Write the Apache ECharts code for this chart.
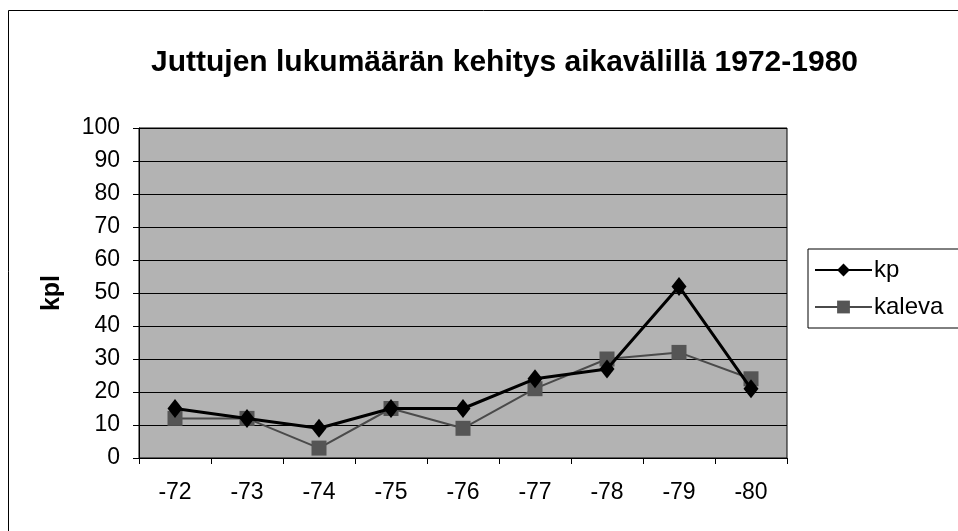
<!DOCTYPE html>
<html>
<head>
<meta charset="utf-8">
<script src="https://cdn.jsdelivr.net/npm/echarts@6/dist/echarts.min.js"></script>
<style>html,body{margin:0;padding:0;background:#fff;}#c{width:958px;height:531px;}</style>
</head>
<body>
<div id="c"></div>
<script>
const categories = ['-72','-73','-74','-75','-76','-77','-78','-79','-80'];
const kpValues = [15, 12, 9, 15, 15, 24, 27, 52, 21];
const kalevaValues = [12, 12, 3, 15, 9, 21, 30, 32, 24];
const titleText = 'Juttujen lukumäärän kehitys aikavälillä 1972-1980';
const yAxisName = 'kpl';

const chart = echarts.init(document.getElementById('c'));
const font = 'Liberation Sans, Arial, sans-serif';
chart.setOption({
  animation: false,
  backgroundColor: '#ffffff',
  graphic: [{
    type: 'rect', shape: {x: 8.5, y: 10.5, width: 970, height: 540},
    style: {fill: 'none', stroke: '#000', lineWidth: 1}, silent: true, z: 0
  }],
  title: {
    text: titleText, left: 146, top: 43,
    textStyle: {fontFamily: font, fontWeight: 'bold', fontSize: 30, color: '#000'}
  },
  legend: {
    orient: 'vertical', left: 808, top: 249,
    padding: [9, 60, 9, 6], itemGap: 13, itemWidth: 57, itemHeight: 16,
    borderColor: '#000', borderWidth: 1, backgroundColor: '#fff',
    textStyle: {fontFamily: font, fontSize: 24, color: '#000', padding: [0, 0, 0, -3]},
    data: ['kp', 'kaleva']
  },
  grid: {left: 139, right: 171, top: 128, bottom: 73, show: true, backgroundColor: '#b3b3b3', borderColor: '#000', borderWidth: 1},
  xAxis: {
    type: 'category', data: categories, boundaryGap: true,
    axisLine: {lineStyle: {color: '#000', width: 1}},
    axisTick: {show: true, length: 6, lineStyle: {color: '#000'}},
    axisLabel: {fontFamily: font, fontSize: 23, color: '#000', margin: 23}
  },
  yAxis: {
    type: 'value', min: 0, max: 100, interval: 10,
    name: yAxisName, nameLocation: 'middle', nameGap: 74, nameRotate: 90,
    nameTextStyle: {fontFamily: font, fontSize: 25, fontWeight: 'bold', color: '#000'},
    axisLine: {show: true, lineStyle: {color: '#000'}},
    axisTick: {show: true, length: 6, lineStyle: {color: '#000'}},
    axisLabel: {fontFamily: font, fontSize: 23, color: '#000', margin: 19},
    splitLine: {lineStyle: {color: '#000', width: 1}}
  },
  series: [
    {name: 'kp', type: 'line', data: kpValues, symbol: 'diamond', symbolSize: [15, 19],
     lineStyle: {color: '#000', width: 3}, itemStyle: {color: '#000'}, z: 3},
    {name: 'kaleva', type: 'line', data: kalevaValues, symbol: 'rect', symbolSize: 15,
     lineStyle: {color: '#4a4a4a', width: 2}, itemStyle: {color: '#555555'}, z: 2}
  ]
});
</script>
</body>
</html>
